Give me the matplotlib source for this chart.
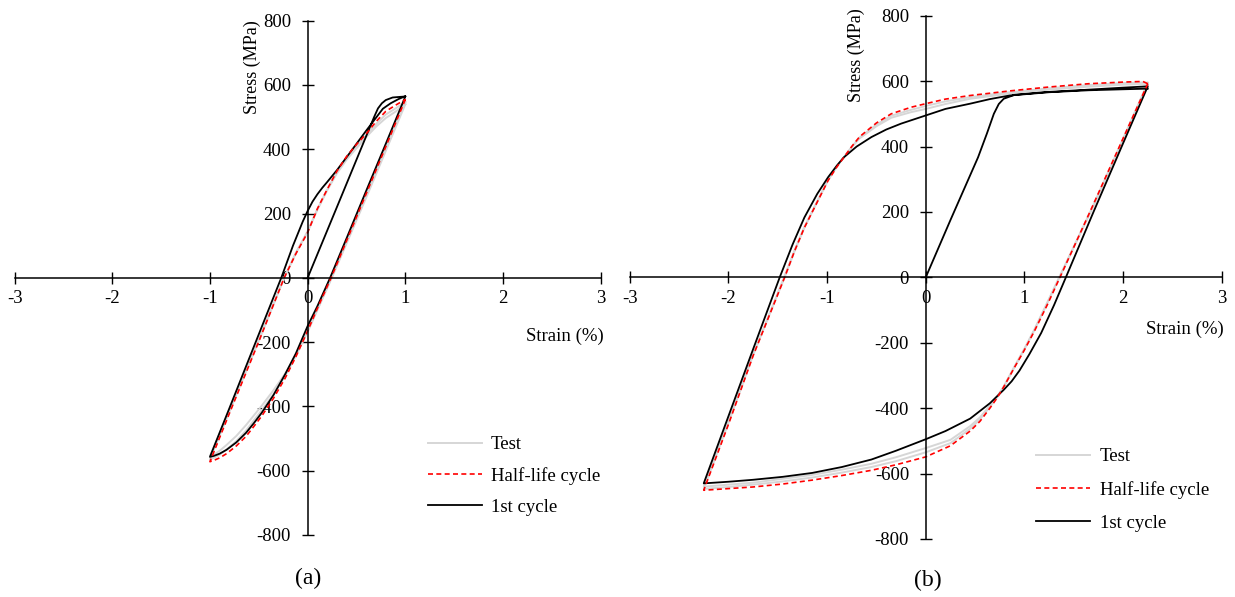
import numpy as np
import matplotlib
matplotlib.use("Agg")
import matplotlib.pyplot as plt

plt.rcParams['font.family'] = ['Liberation Serif', 'DejaVu Serif']
plt.rcParams['axes.unicode_minus'] = False

# ---- (a) strain amplitude 1 % ----
first_a_strain = [0.0, 0.35, 0.68, 0.72, 0.76, 0.80, 0.87, 0.95, 1.0,
                  0.80, 0.60, 0.40, 0.23, 0.10, 0.0, -0.12, -0.23, -0.35, -0.47, -0.55, -0.63,
                  -0.73, -0.83, -0.90, -0.96, -1.0,
                  -0.80, -0.60, -0.27, -0.15, -0.05, 0.0, 0.05, 0.10, 0.15, 0.20, 0.30, 0.43,
                  0.60, 0.68, 0.77, 0.85, 0.93, 1.0]
first_a_stress = [0, 257, 500, 527, 543, 553, 561, 563, 564,
                  417, 271, 124, 0, -88, -150, -235, -300, -365, -420, -452, -482,
                  -512, -535, -547, -554, -557,
                  -405, -252, 0, 100, 175, 208, 237, 260, 280, 298, 335, 388,
                  458, 490, 526, 543, 556, 565]

half_a_strain = [1.0, 0.80, 0.60, 0.40, 0.24, 0.10, 0.0, -0.12, -0.23, -0.35, -0.47, -0.55,
                 -0.63, -0.73, -0.83, -0.90, -0.96, -1.0,
                 -0.80, -0.50, -0.24, -0.12, 0.0, 0.10, 0.20, 0.30, 0.40, 0.50, 0.60, 0.70,
                 0.80, 0.90, 1.0]
half_a_stress = [555, 408, 262, 116, 0, -95, -165, -245, -312, -375, -430, -462,
                 -493, -523, -547, -560, -568, -572,
                 -421, -198, 0, 75, 141, 215, 275, 332, 378, 415, 448, 486,
                 518, 537, 555]

test_a1_stress = [540, 395, 250, 108, -5, -100, -168, -240, -298, -350, -398, -428,
                  -458, -492, -520, -538, -550, -555,
                  -412, -192, 0, 78, 145, 212, 272, 325, 368, 403, 438, 470,
                  497, 517, 540]
test_a2_stress = [547, 401, 256, 112, -3, -98, -166, -243, -305, -362, -412, -443,
                  -475, -508, -534, -550, -560, -565,
                  -416, -196, 0, 77, 143, 214, 274, 330, 374, 410, 444, 478,
                  508, 527, 547]

# ---- (b) strain amplitude 2.25 % ----
first_b_strain = [0.0, 0.25, 0.53, 0.62, 0.69, 0.74, 0.79, 0.90, 1.20, 1.60, 2.0, 2.25,
                  2.0, 1.70, 1.42, 1.30, 1.17, 1.05, 0.95, 0.87, 0.79, 0.65, 0.45, 0.20, 0.0,
                  -0.30, -0.55, -0.85, -1.15, -1.45, -1.75, -2.0, -2.25,
                  -2.0, -1.75, -1.48, -1.35, -1.23, -1.10, -0.99, -0.90, -0.83, -0.70,
                  -0.55, -0.40, -0.25, 0.0, 0.20, 0.45, 0.65, 0.85, 1.25, 1.65, 2.0, 2.25]
first_b_stress = [0, 175, 367, 440, 500, 530, 546, 558, 566, 573, 580, 584,
                  410, 200, 0, -85, -170, -235, -285, -318, -344, -385, -432, -470, -495,
                  -530, -557, -580, -598, -610, -619, -625, -630,
                  -425, -220, 0, 100, 183, 255, 306, 342, 367, 400,
                  429, 452, 470, 495, 515, 531, 545, 556, 566, 572, 575, 577]

half_b_strain = [2.25, 2.0, 1.70, 1.36, 1.23, 1.10, 1.0, 0.90, 0.79, 0.72, 0.65, 0.55,
                 0.45, 0.25, 0.0, -0.30, -0.55, -0.85, -1.15, -1.45, -1.75, -2.0, -2.25,
                 -2.0, -1.75, -1.43, -1.33, -1.23, -1.10, -0.99, -0.90, -0.83, -0.75,
                 -0.67, -0.50, -0.35, -0.15, 0.0, 0.20, 0.45, 0.85, 1.25, 1.65, 2.0, 2.20, 2.25]
half_b_stress = [592, 425, 224, 0, -85, -165, -222, -275, -335, -370, -400, -440,
                 -470, -515, -549, -573, -590, -606, -620, -632, -641, -646, -651,
                 -450, -240, 0, 80, 152, 230, 296, 338, 367, 400,
                 430, 472, 500, 520, 531, 545, 556, 570, 582, 592, 597, 599, 592]

test_b1_stress = [588, 420, 218, 5, -78, -160, -218, -272, -334, -366, -392, -428,
                  -455, -497, -522, -550, -570, -588, -604, -616, -628, -634, -640,
                  -442, -236, 0, 80, 152, 232, 298, 340, 367, 398,
                  425, 462, 488, 505, 515, 530, 546, 562, 574, 583, 589, 591, 588]
test_b2_stress = [595, 424, 222, 3, -80, -162, -220, -274, -335, -368, -396, -434,
                  -463, -507, -535, -562, -580, -597, -612, -624, -634, -641, -647,
                  -446, -238, 5, 82, 154, 231, 297, 339, 367, 399,
                  428, 467, 494, 512, 524, 538, 551, 566, 578, 588, 594, 596, 595]

x_ticks = [-3, -2, -1, 0, 1, 2, 3]
y_ticks = [-800, -600, -400, -200, 0, 200, 400, 600, 800]

FS = 13.5
gray = '#d6d6d6'


def setup_axes(ax):
    ax.set_xlim(-3, 3)
    ax.set_ylim(-800, 800)
    for s in ['top', 'right']:
        ax.spines[s].set_visible(False)
    ax.spines['left'].set_position('zero')
    ax.spines['bottom'].set_position('zero')
    for s in ['left', 'bottom']:
        ax.spines[s].set_linewidth(1.1)
    ax.set_xticks(x_ticks)
    ax.set_yticks(y_ticks)
    ax.tick_params(axis='both', direction='inout', length=8, width=1.0, labelsize=FS)
    ax.tick_params(axis='x', pad=5)
    ax.tick_params(axis='y', pad=8)
    ax.patch.set_visible(False)


fig = plt.figure(figsize=(12.35, 5.97), dpi=100)
ax1 = fig.add_axes([0.0118, 0.1039, 0.4746, 0.8615])
ax2 = fig.add_axes([0.5099, 0.0972, 0.4794, 0.8765])

panels = [
    (ax1, first_a_strain, first_a_stress, half_a_strain, half_a_stress,
     [test_a1_stress, test_a2_stress]),
    (ax2, first_b_strain, first_b_stress, half_b_strain, half_b_stress,
     [test_b1_stress, test_b2_stress]),
]

handles = {}
for ax, fx, fy, hx, hy, tys in panels:
    setup_axes(ax)
    tl = []
    for ty in tys:
        l, = ax.plot(hx, ty, color=gray, lw=1.4, label='Test')
        tl.append(l)
    lf, = ax.plot(fx, fy, color='black', lw=1.3, label='1st cycle')
    lh, = ax.plot(hx, hy, color='red', lw=1.2, linestyle=(0, (3, 2)), label='Half-life cycle')
    handles[ax] = [tl[0], lh, lf]

ax1.legend(handles=handles[ax1], loc='center left', bbox_to_anchor=(0.705, 0.1148),
           frameon=False, fontsize=FS, handlelength=2.9, handletextpad=0.45,
           labelspacing=0.74, borderpad=0, borderaxespad=0)
ax2.legend(handles=handles[ax2], loc='center left', bbox_to_anchor=(0.686, 0.0937),
           frameon=False, fontsize=FS, handlelength=2.9, handletextpad=0.5,
           labelspacing=0.84, borderpad=0, borderaxespad=0)

ax1.text(-0.57, 800, 'Stress (MPa)', rotation=90, ha='center', va='top', fontsize=13)
ax2.text(-0.70, 823, 'Stress (MPa)', rotation=90, ha='center', va='top', fontsize=13)
ax1.text(3.03, -182, 'Strain (%)', ha='right', va='center', fontsize=FS)
ax2.text(3.02, -160, 'Strain (%)', ha='right', va='center', fontsize=FS)

fig.text(308 / 1235, 1 - 578 / 597, '(a)', ha='center', va='center', fontsize=17)
fig.text(928 / 1235, 1 - 580 / 597, '(b)', ha='center', va='center', fontsize=17)

fig.savefig('out.png', dpi=100)
